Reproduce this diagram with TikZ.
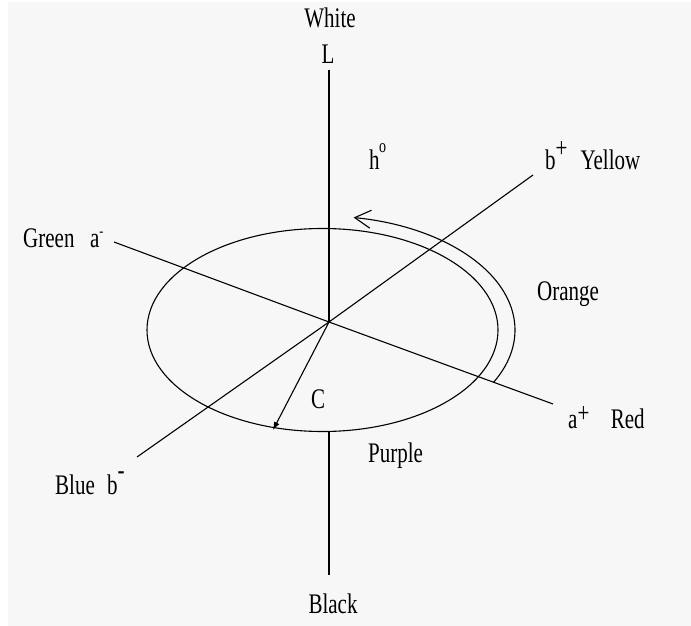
\documentclass[tikz,border=0pt]{standalone}
\usepackage{fontspec}
\setmainfont{Liberation Serif}
\usepackage{graphicx}
\usetikzlibrary{arrows.meta}
\definecolor{bg}{HTML}{F7F7F7}
\newcommand{\vtxt}[1]{\scalebox{1}[1.35]{#1}}
\begin{document}
\begin{tikzpicture}[x=1pt,y=-1pt,
  axis/.style={line width=1.1pt, black},
  lbl/.style={inner sep=0pt, font=\fontsize{21}{25}\selectfont},
  ]
\useasboundingbox (0,0) rectangle (691,626);
\fill[white] (0,0) rectangle (691,626);
\fill[bg] (8,2) rectangle (691,626);
% key points
\coordinate (O) at (329,322);
\coordinate (E) at (322.5,330);
\coordinate (Ltop) at (329,70);
\coordinate (Vb1) at (329,431);
\coordinate (Vb2) at (329,575);
\coordinate (Bm) at (137,457);
\coordinate (Bp) at (533,175);
\coordinate (Am) at (114,242);
\coordinate (Ap) at (553,404);
\coordinate (Ctip) at (273,430);
\coordinate (Arcstart) at (493.4,382.5);
% plane ellipse
\draw[axis] (E) ellipse [x radius=175.5pt, y radius=101.5pt];
% axes
\draw[axis] (Ltop) -- (O);
\draw[axis] (Vb1) -- (Vb2);
\draw[axis] (Bm) -- (O) -- (Bp);
\draw[axis] (Am) -- (O) -- (Ap);
% chroma arrow
\draw[axis, -{Latex[length=8pt,width=6pt]}] (O) -- (Ctip);
% hue arrow
\draw[axis, -{Straight Barb[length=16pt,width=18pt]}] (Arcstart) arc[start angle=-27.4, end angle=80.7, x radius=192.5pt, y radius=114pt];
% labels
\node[lbl, anchor=base] (white) at (330,28) {\vtxt{White}};
\node[lbl, anchor=base] (L) at (328,64) {\vtxt{L}};
\node[lbl, anchor=base west] (h) at (369,169) {\vtxt{h\kern-0.5pt\raisebox{11.9pt}{\fontsize{14}{16}\selectfont o}}};
\node[lbl, anchor=base west] (yellow) at (545,169) {\vtxt{b\raisebox{8.8pt}{+}\hspace{13pt}Yellow}};
\node[lbl, anchor=base west] (orange) at (537,300) {\vtxt{Orange}};
\node[lbl, anchor=base west] (green) at (23,247) {\vtxt{Green\hspace{15.5pt}a\raisebox{8pt}{\fontsize{12}{14}\selectfont -}}};
\node[lbl, anchor=base west] (red) at (568,428) {\vtxt{a\raisebox{4.3pt}{+}\hspace{21.5pt}Red}};
\node[lbl, anchor=base west] (C) at (311,408) {\vtxt{C}};
\node[lbl, anchor=base west] (purple) at (368,462) {\vtxt{Purple}};
\node[lbl, anchor=base west] (blue) at (55,494) {\vtxt{Blue\hspace{12.3pt}b\raisebox{10.9pt}{-}}};
\node[lbl, anchor=base] (black) at (333,613) {\vtxt{Black}};
\end{tikzpicture}
\end{document}
